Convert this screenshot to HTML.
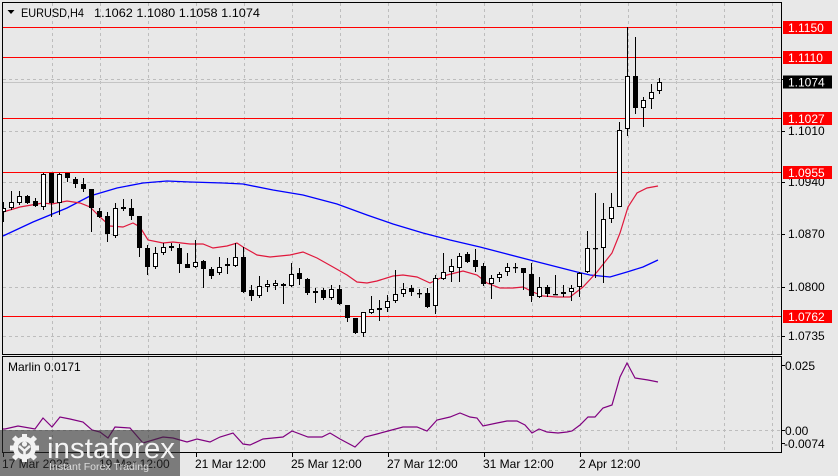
<!DOCTYPE html>
<html>
<head>
<meta charset="utf-8">
<style>
html,body{margin:0;padding:0;background:#e8e8e8;}
svg{display:block;}
text{font-family:"Liberation Sans",Arial,sans-serif;}
</style>
</head>
<body>
<svg width="838" height="476" viewBox="0 0 838 476" xmlns="http://www.w3.org/2000/svg">
<defs>
<clipPath id="mc"><rect x="3" y="3" width="778" height="351"/></clipPath>
<clipPath id="ic"><rect x="3" y="357" width="778" height="95"/></clipPath>
</defs>
<rect x="0" y="0" width="838" height="476" fill="#e8e8e8"/>

<g stroke="#bdbdbd" stroke-width="1" stroke-dasharray="3,3" fill="none">
<path d="M52.5 3V354M100.5 3V354M148.5 3V354M196.5 3V354M244.5 3V354M292.5 3V354M340.5 3V354M388.5 3V354M436.5 3V354M484.5 3V354M532.5 3V354M580.5 3V354M628.5 3V354M676.5 3V354M724.5 3V354M772.5 3V354"/>
<path d="M3 79.5H781M3 131.5H781M3 182.5H781M3 234.5H781M3 287.5H781M3 336.5H781"/>
<path d="M52.5 357V452M100.5 357V452M148.5 357V452M196.5 357V452M244.5 357V452M292.5 357V452M340.5 357V452M388.5 357V452M436.5 357V452M484.5 357V452M532.5 357V452M580.5 357V452M628.5 357V452M676.5 357V452M724.5 357V452M772.5 357V452"/>
<path d="M3 430.5H781"/>
</g>

<path d="M3 82.5H781" stroke="#c4c4c4" stroke-width="1"/>

<g stroke="#ff0000" stroke-width="1">
<path d="M3 27.5H781M3 57.5H781M3 118.5H781M3 172.5H781M3 316.5H781"/>
</g>

<g clip-path="url(#mc)">
<polyline fill="none" stroke="#0000ff" stroke-width="1.3" points="3,236 33,222 67,208 90,196 117,188 143,183 167,181 190,182 223,183 243,184 273,190 303,195 337,204 367,215 393,224 423,233 450,240 480,247 530,260 577,272 590,275 610,277 627,272 643,267 658,260"/>
<polyline fill="none" stroke="#e0183c" stroke-width="1.2" points="3,212 20,207 43,203 52,204 67,201 80,203 90,207 100,217 110,226 123,227 133,223 140,227 148,240 163,243 173,242 190,244 203,244 213,248 227,246 237,243 243,247 257,255 270,257 290,255 303,252 317,258 333,267 347,275 357,282 367,283 377,281 393,276 403,275 417,277 430,283 447,275 463,271 477,275 487,283 500,288 513,288 523,287 533,292 543,296 557,297 570,297 583,287 597,272 612,253 620,233 628,207 637,193 647,188 658,186"/>

<path stroke="#000" stroke-width="1" fill="none" d="M3.5 202V222M11.5 191V210M19.5 191V205M27.5 195V204M35.5 198V207M43.5 173V210M51.5 173V217M59.5 173V215M67.5 173V182M75.5 177V188M83.5 178V192M91.5 189V232M99.5 208V218M107.5 212V242M115.5 203V238M123.5 199V211M131.5 199V220M139.5 216V257M147.5 245V275M155.5 247V269M163.5 243V255M171.5 243V251M179.5 244V273M187.5 253V268M195.5 240V268M203.5 260V288M211.5 267V279M219.5 257V275M227.5 258V274M235.5 243V267M243.5 247V293M251.5 285V301M259.5 276V298M267.5 280V292M275.5 280V290M283.5 283V304M291.5 263V287M299.5 268V285M307.5 278V295M315.5 288V303M323.5 288V300M331.5 285V300M339.5 285V305M347.5 305V322M355.5 318V334M363.5 312V337M371.5 296V314M379.5 300V321M387.5 295V312M395.5 270V303M403.5 283V297M411.5 285V296M419.5 289V298M427.5 288V308M435.5 275V314M443.5 253V280M451.5 259V282M459.5 253V282M467.5 252V263M475.5 249V272M483.5 263V286M491.5 275V299M499.5 272V282M507.5 263V276M515.5 263V273M523.5 268V290M531.5 263V302M539.5 277V298M547.5 285V297M555.5 275V295M563.5 285V297M571.5 285V301M579.5 272V297M587.5 231V273M595.5 193V278M603.5 203V283M611.5 193V223M619.5 122V207M627.5 27V136M635.5 37V114M643.5 97V127M651.5 84V109M659.5 78V94"/>

<g fill="#ffffff" stroke="#000" stroke-width="1">
<rect x="1.5" y="208.5" width="4" height="3"/>
<rect x="9.5" y="202.5" width="4" height="5"/>
<rect x="17.5" y="196.5" width="4" height="6"/>
<rect x="41.5" y="174.5" width="4" height="32"/>
<rect x="57.5" y="174.5" width="4" height="28"/>
<rect x="113.5" y="208.5" width="4" height="27"/>
<rect x="153.5" y="253.5" width="4" height="13"/>
<rect x="161.5" y="247.5" width="4" height="5"/>
<rect x="193.5" y="262.5" width="4" height="4"/>
<rect x="217.5" y="267.5" width="4" height="5"/>
<rect x="225.5" y="264.5" width="4" height="1"/>
<rect x="233.5" y="257.5" width="4" height="8"/>
<rect x="257.5" y="286.5" width="4" height="9"/>
<rect x="265.5" y="284.5" width="4" height="2"/>
<rect x="273.5" y="283.5" width="4" height="2"/>
<rect x="289.5" y="274.5" width="4" height="11"/>
<rect x="313.5" y="291.5" width="4" height="1"/>
<rect x="329.5" y="289.5" width="4" height="8"/>
<rect x="361.5" y="312.5" width="4" height="20"/>
<rect x="369.5" y="309.5" width="4" height="3"/>
<rect x="377.5" y="308.5" width="4" height="1"/>
<rect x="385.5" y="301.5" width="4" height="6"/>
<rect x="393.5" y="294.5" width="4" height="6"/>
<rect x="401.5" y="289.5" width="4" height="4"/>
<rect x="433.5" y="278.5" width="4" height="27"/>
<rect x="441.5" y="272.5" width="4" height="6"/>
<rect x="449.5" y="266.5" width="4" height="5"/>
<rect x="457.5" y="256.5" width="4" height="11"/>
<rect x="489.5" y="278.5" width="4" height="5"/>
<rect x="497.5" y="274.5" width="4" height="3"/>
<rect x="505.5" y="267.5" width="4" height="4"/>
<rect x="537.5" y="287.5" width="4" height="9"/>
<rect x="569.5" y="288.5" width="4" height="3"/>
<rect x="577.5" y="273.5" width="4" height="13"/>
<rect x="585.5" y="248.5" width="4" height="23"/>
<rect x="601.5" y="219.5" width="4" height="28"/>
<rect x="609.5" y="207.5" width="4" height="11"/>
<rect x="617.5" y="130.5" width="4" height="76"/>
<rect x="625.5" y="76.5" width="4" height="52"/>
<rect x="641.5" y="100.5" width="4" height="7"/>
<rect x="649.5" y="92.5" width="4" height="6"/>
<rect x="657.5" y="82.5" width="4" height="8"/>
</g>

<g fill="#000" stroke="#000" stroke-width="1">
<rect x="25.5" y="196.5" width="4" height="6"/>
<rect x="33.5" y="201.5" width="4" height="4"/>
<rect x="49.5" y="173.5" width="4" height="29"/>
<rect x="65.5" y="173.5" width="4" height="4"/>
<rect x="73.5" y="179.5" width="4" height="4"/>
<rect x="81.5" y="184.5" width="4" height="4"/>
<rect x="89.5" y="189.5" width="4" height="18"/>
<rect x="97.5" y="211.5" width="4" height="5"/>
<rect x="105.5" y="216.5" width="4" height="17"/>
<rect x="121.5" y="207.5" width="4" height="1"/>
<rect x="129.5" y="208.5" width="4" height="7"/>
<rect x="137.5" y="216.5" width="4" height="31"/>
<rect x="145.5" y="248.5" width="4" height="18"/>
<rect x="169.5" y="246.5" width="4" height="1"/>
<rect x="177.5" y="248.5" width="4" height="15"/>
<rect x="185.5" y="264.5" width="4" height="3"/>
<rect x="201.5" y="261.5" width="4" height="7"/>
<rect x="209.5" y="269.5" width="4" height="6"/>
<rect x="241.5" y="257.5" width="4" height="34"/>
<rect x="249.5" y="290.5" width="4" height="5"/>
<rect x="281.5" y="284.5" width="4" height="1"/>
<rect x="297.5" y="273.5" width="4" height="5"/>
<rect x="305.5" y="279.5" width="4" height="13"/>
<rect x="321.5" y="290.5" width="4" height="7"/>
<rect x="337.5" y="289.5" width="4" height="14"/>
<rect x="345.5" y="305.5" width="4" height="12"/>
<rect x="353.5" y="318.5" width="4" height="14"/>
<rect x="409.5" y="288.5" width="4" height="3"/>
<rect x="425.5" y="293.5" width="4" height="13"/>
<rect x="465.5" y="254.5" width="4" height="7"/>
<rect x="473.5" y="260.5" width="4" height="6"/>
<rect x="481.5" y="266.5" width="4" height="17"/>
<rect x="521.5" y="268.5" width="4" height="4"/>
<rect x="529.5" y="274.5" width="4" height="21"/>
<rect x="545.5" y="287.5" width="4" height="6"/>
<rect x="561.5" y="292.5" width="4" height="1"/>
<rect x="633.5" y="76.5" width="4" height="31"/>
</g>
<g fill="#000">
<rect x="417" y="293" width="5" height="1.3"/>
<rect x="513" y="267" width="5" height="1.3"/>
<rect x="553" y="294" width="5" height="1.3"/>
<rect x="593" y="248" width="5" height="1.3"/>
</g>
</g>

<g clip-path="url(#ic)">
<polyline fill="none" stroke="#800080" stroke-width="1.2" points="3,429 5,429 18,426 35,429 43,418 52,427 60,417 70,419 83,422 92,430 100,432 108,438 115,427 130,428 143,443 153,440 163,437 173,438 187,442 197,439 210,442 220,437 233,433 243,444 250,445 263,439 283,437 292,431 308,437 322,437 330,433 340,439 355,447 365,437 377,434 388,431 403,427 417,427 427,431 437,420 450,417 460,413 470,417 477,418 483,426 497,423 507,421 517,421 525,425 532,433 539,429 547,432 558,433 567,432 572,431 580,425 588,417 595,417 603,408 612,405 620,377 627,363 635,378 648,380 658,382"/>
</g>

<g fill="none" stroke="#000" stroke-width="1">
<rect x="2.5" y="2.5" width="779" height="352"/>
<rect x="2.5" y="356.5" width="779" height="96"/>
</g>

<path stroke="#000" stroke-width="1" d="M781 79.5H785M781 131.5H785M781 182.5H785M781 234.5H785M781 287.5H785M781 336.5H785M781 365.5H785M781 430.5H785M781 443.5H785"/>
<path stroke="#000" stroke-width="1" d="M3.5 452V457M100.5 452V457M196.5 452V457M292.5 452V457M388.5 452V457M484.5 452V457M580.5 452V457"/>

<path d="M7.5 10L14.5 10L11 14Z" fill="#000"/>
<text x="21" y="17" font-size="12" fill="#000" textLength="63" lengthAdjust="spacingAndGlyphs">EURUSD,H4</text>
<text x="94" y="17" font-size="12" fill="#000" textLength="166" lengthAdjust="spacingAndGlyphs">1.1062 1.1080 1.1058 1.1074</text>
<text x="8" y="371" font-size="12" fill="#000">Marlin 0.0171</text>

<g font-size="12" fill="#000">
<text x="788" y="84">1.1080</text>
<text x="788" y="135">1.1010</text>
<text x="788" y="186">1.0940</text>
<text x="788" y="238">1.0870</text>
<text x="788" y="291">1.0800</text>
<text x="788" y="340">1.0735</text>
<text x="785" y="370">0.025</text>
<text x="785" y="435">0.00</text>
<text x="784" y="448">-0.0074</text>
</g>

<g>
<rect x="783" y="21" width="49" height="13" fill="#ff0000"/>
<rect x="783" y="51" width="49" height="13" fill="#ff0000"/>
<rect x="783" y="75.5" width="49" height="13" fill="#000"/>
<rect x="783" y="112" width="49" height="13" fill="#ff0000"/>
<rect x="783" y="166" width="49" height="13" fill="#ff0000"/>
<rect x="783" y="310" width="49" height="13" fill="#ff0000"/>
</g>
<g font-size="12" fill="#fff">
<text x="788" y="32">1.1150</text>
<text x="788" y="62">1.1110</text>
<text x="788" y="86.5">1.1074</text>
<text x="788" y="123">1.1027</text>
<text x="788" y="177">1.0955</text>
<text x="788" y="321">1.0762</text>
</g>

<g font-size="12" fill="#000">
<text x="2" y="468">17 Mar 2025</text>
<text x="99" y="468">19 Mar 12:00</text>
<text x="195" y="468">21 Mar 12:00</text>
<text x="291" y="468">25 Mar 12:00</text>
<text x="387" y="468">27 Mar 12:00</text>
<text x="483" y="468">31 Mar 12:00</text>
<text x="579" y="468">2 Apr 12:00</text>
</g>

<rect x="0" y="430" width="180" height="46" fill="rgba(45,45,45,0.58)"/>
<g fill="#f2f2f2">
<circle cx="24.5" cy="448" r="11.5"/>
<rect x="22" y="434" width="5" height="6"/>
<rect x="22" y="456" width="5" height="6"/>
<rect x="10" y="445.5" width="6" height="5"/>
<rect x="33" y="445.5" width="6" height="5"/>
<rect x="13" y="436.5" width="5" height="5" transform="rotate(45 15.5 439)"/>
<rect x="31" y="436.5" width="5" height="5" transform="rotate(-45 33.5 439)"/>
<rect x="13" y="454.5" width="5" height="5" transform="rotate(-45 15.5 457)"/>
<rect x="31" y="454.5" width="5" height="5" transform="rotate(45 33.5 457)"/>
</g>
<circle cx="24.5" cy="448" r="6.5" fill="#7a7a7a"/>
<circle cx="24.5" cy="444" r="2.6" fill="#f2f2f2"/>
<path d="M19 446L24.5 451L30 446M24.5 450V461" stroke="#f2f2f2" stroke-width="2.6" fill="none"/>
<text x="47" y="458" font-size="29" fill="#f4f4f4" textLength="128" lengthAdjust="spacingAndGlyphs">instaforex</text>
<text x="49" y="470" font-size="10.5" fill="#dcdcdc" textLength="100" lengthAdjust="spacingAndGlyphs">Instant Forex Trading</text>
</svg>
</body>
</html>
